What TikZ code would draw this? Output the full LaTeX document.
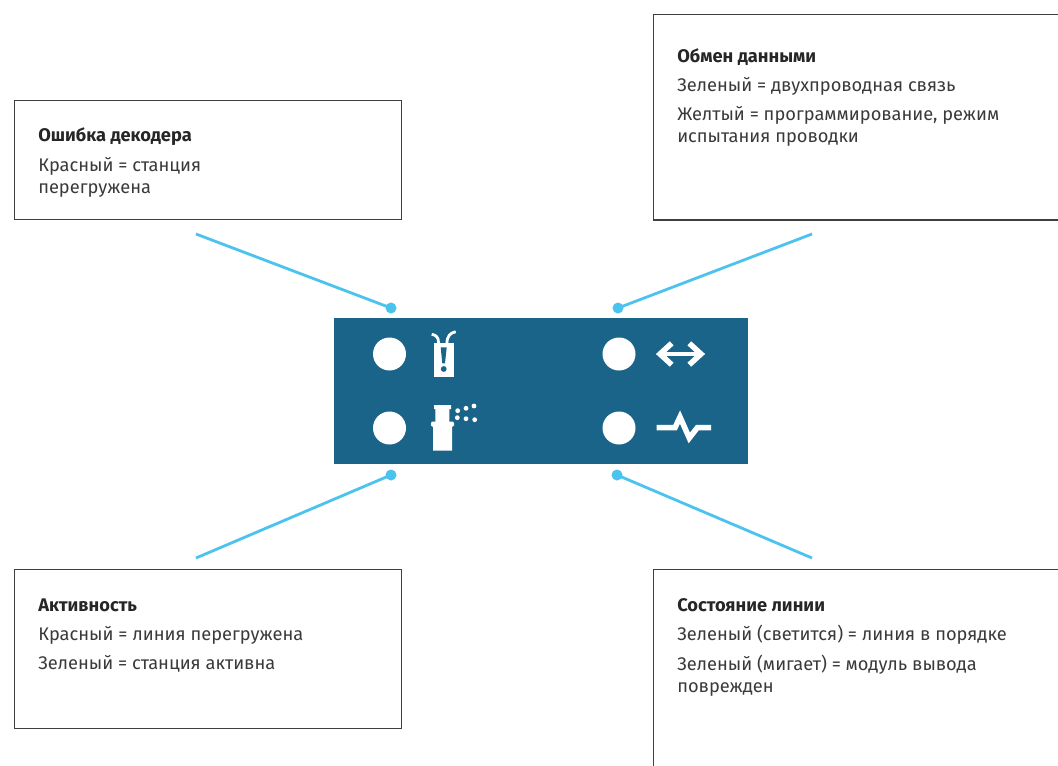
\documentclass[tikz,border=0pt]{standalone}
\usepackage{fontspec}
\setmainfont{Fira Sans}
\definecolor{paneblue}{HTML}{1B6489}
\definecolor{leaderblue}{HTML}{4CC3EE}
\definecolor{boxline}{HTML}{3F3F3F}
\definecolor{boxtext}{HTML}{3A3A3A}
\def\px{0.75pt}
\tikzset{
	infobox/.style={draw=boxline, line width=1.2*\px, anchor=north west, inner sep=0, outer sep=0},
	infotext/.style={anchor=north west, inner sep=0, align=left, text=boxtext, font=\fontsize{13.7}{16.5}\selectfont, execute at begin node=\strut},
	infotitle/.style={infotext, text=black!85, font=\fontsize{13.7}{16.5}\selectfont\bfseries},
	led/.style={circle, fill=white, minimum size=33*\px, inner sep=0},
	pin/.style={circle, fill=leaderblue, minimum size=11*\px, inner sep=0},
	leader/.style={draw=leaderblue, line width=2.8*\px},
	icon/.style={fill=white, draw=none},
}
\begin{document}
\begin{tikzpicture}[x=\px, y=-\px]
	\clip (0,0) rectangle (1058,765);
	\fill[white] (0,0) rectangle (1058,765);

	\node[infobox, minimum width=387*\px, minimum height=119*\px] (errbox) at (14.5,100.5) {};
	\node[infobox, minimum width=420*\px, minimum height=205.3*\px] (databox) at (653.7,14.7) {};
	\node[infobox, minimum width=387*\px, minimum height=159*\px] (activebox) at (14.5,569.5) {};
	\node[infobox, minimum width=420*\px, minimum height=220*\px] (linebox) at (653.7,569.5) {};

	\node[infotitle] (errtitle) at (38,125.6) {Ошибка декодера};
	\node[infotext] (errtext) at (38,157) {Красный = станция\\перегружена};

	\node[infotitle] (datatitle) at (677,46.6) {Обмен данными};
	\node[infotext] (datatext) at (677,75.6) {Зеленый = двухпроводная связь};
	\node[infotext] (datamode) at (677,106) {Желтый = программирование, режим\\испытания проводки};

	\node[infotitle] (activetitle) at (38,595.6) {Активность};
	\node[infotext] (activetext) at (38,624.6) {Красный = линия перегружена};
	\node[infotext] (activegreen) at (38,653.6) {Зеленый = станция активна};

	\node[infotitle] (linetitle) at (677,595.6) {Состояние линии};
	\node[infotext] (linetext) at (677,624.6) {Зеленый (светится) = линия в порядке};
	\node[infotext] (lineblink) at (677,655) {Зеленый (мигает) = модуль вывода\\поврежден};

	\node[fill=paneblue, anchor=north west, inner sep=0, outer sep=0, minimum width=413.7*\px, minimum height=145.3*\px] (panel) at (334,318.2) {};

	\foreach \name/\x/\y in {errled/389.5/354, dataled/619/354, activeled/389.5/428, lineled/619/428}
		\node[led] (\name) at (\x,\y) {};

	\foreach \name/\x/\y/\ex/\ey in {errpin/391/308/196/234, datapin/618/308/812/234, activepin/391/475/196/558, linepin/617/475/812/558} {
		\node[pin] (\name) at (\x,\y) {};
		\coordinate (\name end) at (\ex,\ey);
		\draw[leader] (\name end) -- (\name.center);
	}

	\fill[icon] (433.7,343.3) rectangle (454,376.7);
	\fill[paneblue] (440.7,347.3) -- (446.7,347.3) -- (445,363.3) -- (442.3,363.3) -- cycle;
	\fill[paneblue] (443.7,369) circle (2.9);
	\draw[white, line width=2.8*\px] (438.6,343.3) .. controls (438.6,337) and (436,335) .. (431.7,334.3);
	\draw[white, line width=2.8*\px] (447,343.3) .. controls (447,336) and (450,333) .. (455.7,331.7);

	\fill[icon] (434,405) -- (451,405) -- (451,409) -- (449.3,409) -- (449.3,421.7) -- (453,421.7)
		-- (454,423) -- (454,425.5) -- (452,427) -- (452,450.7) -- (433,450.7) -- (433,427)
		-- (431,425.5) -- (431,423) -- (432,421.7) -- (435.3,421.7) -- (435.3,409) -- (434,409) -- cycle;
	\foreach \x/\y in {457.7/410.7, 466/408.3, 474/406, 457.3/417.7, 466/418.7, 474.7/419.7}
		\fill[icon] (\x,\y) circle (2.4);

	\draw[white, line width=3.5*\px] (659,354) -- (702,354);
	\draw[white, line width=5.5*\px, miter limit=10] (671.7,343.3) -- (660,354) -- (671.7,364.7);
	\draw[white, line width=5.5*\px, miter limit=10] (689.3,343.3) -- (701,354) -- (689.3,364.7);

	\draw[white, line width=5.5*\px, miter limit=10] (656.7,427.7) -- (675,427.7) -- (680,417) -- (689.3,438) -- (697.3,427.7) -- (711,427.7);
\end{tikzpicture}
\end{document}
